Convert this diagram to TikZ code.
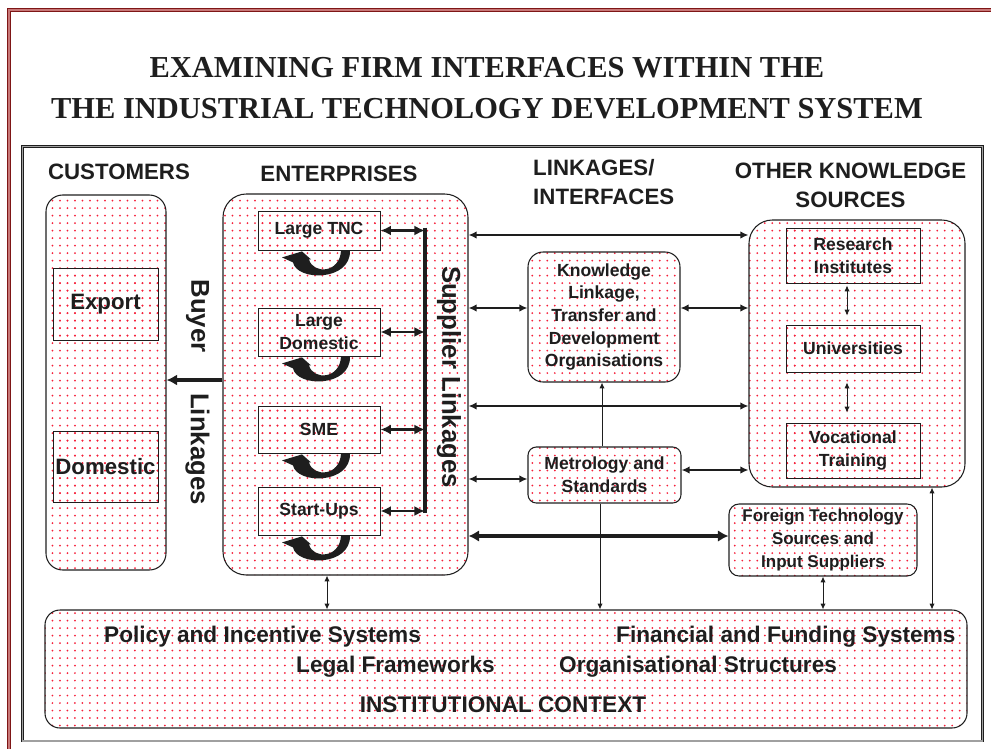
\documentclass[tikz,border=0pt]{standalone}
\usepackage{fontspec}
\setmainfont{Liberation Sans}
\newfontfamily\titlefont{Liberation Serif}
\usepackage{xcolor}
\usepackage{tikz}
\usetikzlibrary{arrows.meta,patterns}
\definecolor{ink}{HTML}{1E1E1E}
\definecolor{dotRed}{HTML}{F5203A}
\definecolor{frameRed}{HTML}{7E1616}
\definecolor{framePink}{HTML}{C87878}
\definecolor{frameGray}{HTML}{A0A0A0}
\pgfdeclarepatternformonly{redDots}{\pgfqpoint{-1pt}{-1pt}}{\pgfqpoint{1pt}{1pt}}{\pgfqpoint{6.4pt}{6.4pt}}{\pgfpathcircle{\pgfpointorigin}{0.85pt}\pgfusepath{fill}}
\tikzset{
  redFrame/.style={draw=frameRed, line width=1pt, double=framePink, double distance=1.1pt},
  blackFrame/.style={draw=ink, line width=0.7pt, double=frameGray, double distance=0.9pt},
  sysBox/.style={draw=ink, line width=0.9pt, rounded corners=#1, pattern=redDots, pattern color=dotRed, inner sep=0pt},
  sysBox/.default=4mm,
  unitBox/.style={draw=ink, line width=0.7pt, pattern=redDots, pattern color=dotRed, inner sep=0pt},
  boxText/.style={align=center, text=ink, font=\fontsize{15}{19.3}\selectfont\bfseries},
  bigText/.style={text=ink, font=\fontsize{19}{23}\selectfont\bfseries},
  headLabel/.style={text=ink, inner sep=0pt, font=\fontsize{19}{24.7}\selectfont\bfseries},
  ctxText/.style={text=ink, inner sep=0pt, anchor=base west, font=\fontsize{19.3}{23}\selectfont\bfseries},
  rotLabel/.style={text=ink, inner sep=0pt, rotate=-90, font=\fontsize{22}{26}\selectfont\bfseries},
  titleText/.style={text=ink, inner sep=0pt, anchor=base, font=\titlefont\fontsize{26}{31}\selectfont\bfseries},
  supLine/.style={draw=ink, line width=3pt},
  boxLink/.style={draw=ink, line width=2.4pt, <->, >={Latex[length=9pt,width=8.5pt]}},
  midLink/.style={draw=ink, line width=1.7pt, <->, >={Latex[length=7pt,width=6.5pt]}},
  heavyLink/.style={draw=ink, line width=3.4pt, <->, >={Latex[length=9pt,width=10pt]}},
  buyerArrow/.style={draw=ink, line width=3.2pt, ->, >={Latex[length=9pt,width=9.5pt]}},
  thinLink/.style={draw=ink, line width=0.8pt, >={Latex[length=5pt,width=4.5pt]}}
}

\begin{document}
\begin{tikzpicture}[x=0.3mm, y=-0.3mm]
  \useasboundingbox (0,0) rectangle (991,748);
  \draw[redFrame] (9,10) rectangle (1010,770);
  \draw[blackFrame] (22.5,146.5) rectangle (982.5,741);

  \node[titleText] (titleA) at (487,77) {EXAMINING FIRM INTERFACES WITHIN THE};
  \node[titleText] (titleB) at (487,118) {THE INDUSTRIAL TECHNOLOGY DEVELOPMENT SYSTEM};

  \node[headLabel, anchor=base] (custHead) at (119,179) {CUSTOMERS};
  \node[headLabel, anchor=base] (entHead) at (339,181) {ENTERPRISES};
  \node[headLabel, align=left, anchor=north west] (linkHead) at (533,159) {LINKAGES/\\INTERFACES};
  \node[headLabel, align=center, anchor=north] (otherHead) at (850.5,163) {OTHER KNOWLEDGE\\SOURCES};

  \node[sysBox=5mm, minimum width=36mm, minimum height=112.5mm] (cust) at (106,382.5) {};
  \node[sysBox=7mm, minimum width=73.5mm, minimum height=114.3mm] (ent) at (345.5,384.5) {};
  \node[sysBox=7mm, minimum width=64.8mm, minimum height=80.1mm] (other) at (857,353.5) {};
  \node[sysBox=4.5mm, boxText, minimum width=45.6mm, minimum height=39mm] (know) at (604,317)
    {Knowledge\\Linkage,\\Transfer and\\Development\\Organisations};
  \node[sysBox=2.5mm, boxText, minimum width=45.9mm, minimum height=16.8mm] (metro) at (604.5,475)
    {Metrology and\\Standards};
  \node[sysBox=3mm, boxText, font=\fontsize{14.5}{19.5}\selectfont\bfseries, minimum width=56.4mm, minimum height=21.6mm] (frgn) at (823,540)
    {Foreign Technology\\Sources and\\Input Suppliers};
  \node[sysBox=4.5mm, minimum width=276.6mm, minimum height=35.4mm] (inst) at (506,669) {};

  \node[unitBox, bigText, minimum width=31.5mm, minimum height=21.6mm] (export) at (105.5,304) {Export};
  \node[unitBox, bigText, minimum width=31.5mm, minimum height=21.3mm] (domestic) at (105.5,466.5) {Domestic};

  \node[unitBox, boxText, minimum width=36.6mm, minimum height=11.7mm] (tnc) at (319,230.5) {Large TNC};
  \node[unitBox, boxText, minimum width=36.6mm, minimum height=14.4mm] (ldom) at (319,332) {Large\\Domestic};
  \node[unitBox, boxText, minimum width=36.6mm, minimum height=14.1mm] (sme) at (319,429.5) {SME};
  \node[unitBox, boxText, minimum width=36.6mm, minimum height=14.4mm] (sups) at (319,511) {Start-Ups};

  \node[unitBox, boxText, minimum width=40.2mm, minimum height=16.5mm] (resInst) at (853,255.5) {Research\\Institutes};
  \node[unitBox, boxText, minimum width=40.2mm, minimum height=14.1mm] (univ) at (853,348.5) {Universities};
  \node[unitBox, boxText, minimum width=40.2mm, minimum height=16.5mm] (vocTrain) at (853,450.5) {Vocational\\Training};

  \node[ctxText] (policy) at (104,642) {Policy and Incentive Systems};
  \node[ctxText] (finance) at (616,642) {Financial and Funding Systems};
  \node[ctxText] (legal) at (296,672) {Legal Frameworks};
  \node[ctxText] (orgStruct) at (559,672) {Organisational Structures};
  \node[ctxText, anchor=base] (ctxTitle) at (503,712) {INSTITUTIONAL CONTEXT};

  \node[rotLabel] (buyerA) at (197.5,316) {Buyer};
  \node[rotLabel] (buyerB) at (197.5,449) {Linkages};
  \node[rotLabel] (supLabel) at (449,377) {Supplier Linkages};

  \foreach \n in {tnc,ldom,sme,sups}
    \fill[ink, shift={(\n.south)}] (31,0) .. controls (32,31) and (-22,31) .. (-26,12)
      -- (-37,7) -- (-17,1) -- (-8,9) -- (-10,9) .. controls (-6,24) and (21,23) .. (22,0) -- cycle;

  \coordinate (supTop) at (425,227.5);
  \coordinate (supBot) at (425,512.5);
  \draw[supLine] (supTop) -- (supBot);
  \foreach \n in {tnc,ldom,sme,sups}
    \draw[boxLink] (\n.east) -- (\n.east -| supTop);

  \draw[buyerArrow] (ent.west |- 0,380) -- (cust.east |- 0,380);

  \draw[midLink] (ent.east |- 0,235) -- (other.west |- 0,235);
  \draw[midLink] (ent.east |- 0,308) -- (know.west |- 0,308);
  \draw[midLink] (know.east |- 0,308) -- (other.west |- 0,308);
  \draw[midLink] (ent.east |- 0,406) -- (other.west |- 0,406);
  \draw[midLink] (ent.east |- 0,479) -- (metro.west |- 0,479);
  \draw[midLink] (metro.east |- 0,470) -- (other.west |- 0,470);
  \draw[heavyLink] (ent.east |- 0,536) -- (frgn.west |- 0,536);

  \draw[thinLink, <->] (ent.south -| 327,0) -- (inst.north -| 327,0);
  \draw[thinLink, <-] (know.south -| 602,0) -- (metro.north -| 602,0);
  \draw[thinLink, ->] (metro.south -| 600,0) -- (inst.north -| 600,0);
  \draw[thinLink, <->] (frgn.south) -- (frgn.south |- inst.north);
  \draw[thinLink, <->] (other.south -| 932,0) -- (inst.north -| 932,0);
  \draw[thinLink, <->, shorten <=0.6mm, shorten >=2.7mm] ([xshift=-1.8mm]resInst.south) -- ([xshift=-1.8mm]univ.north);
  \draw[thinLink, <->, shorten <=3mm, shorten >=3mm] ([xshift=-1.8mm]univ.south) -- ([xshift=-1.8mm]vocTrain.north);
\end{tikzpicture}
\end{document}
